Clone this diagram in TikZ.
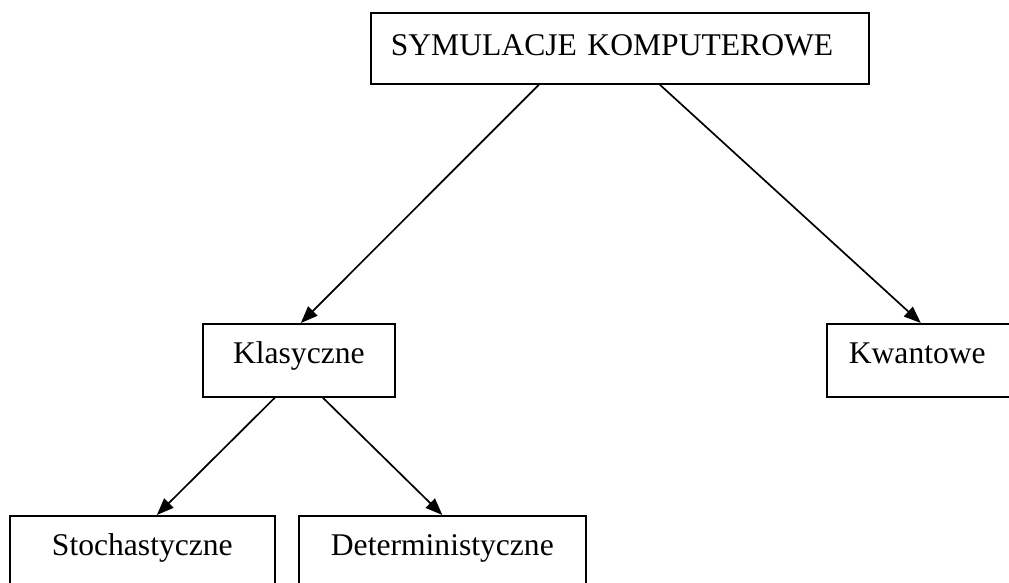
\documentclass[tikz,border=0pt]{standalone}
\usepackage{fontspec}
\setmainfont{Liberation Serif}
\usetikzlibrary{arrows.meta,calc}
\begin{document}
\begin{tikzpicture}[x=1pt,y=-1pt,
  box/.style={draw=black, line width=1.7pt, inner ysep=0pt, font=\fontsize{31.6}{38}\selectfont,
    text height=40pt, text depth=33pt},
  conn/.style={draw=black, line width=1.7pt, -{Triangle[length=17pt,width=13pt]}}]
\clip (0,0) rectangle (1009,583);
\fill[white] (0,0) rectangle (1009,583);
\node[box, anchor=north west, inner xsep=20pt, text width=458pt, align=left,
  text height=43pt, text depth=28pt] (top) at (370,12) {SYMULACJE KOMPUTEROWE};
\node[box, anchor=north west, inner xsep=0pt, text width=192pt, align=center] (klas) at (202,323) {Klasyczne};
\node[box, anchor=north west, inner xsep=22pt, text width=142pt, align=left] (kwan) at (826,323) {Kwantowe};
\node[box, anchor=north west, inner xsep=0pt, text width=265pt, align=center] (stoch) at (9,515) {Stochastyczne};
\node[box, anchor=north west, inner xsep=0pt, text width=287pt, align=center] (det) at (298,515) {Deterministyczne};
\draw[conn] ($(top.south)+(-81,0)$) -- ($(klas.north)+(2,0)$);
\draw[conn] ($(top.south)+(40,0)$) -- ($(kwan.north)+(1,0)$);
\draw[conn] ($(klas.south)+(-24,0)$) -- ($(stoch.north)+(14.5,0)$);
\draw[conn] ($(klas.south)+(24,0)$) -- (det.north);
\end{tikzpicture}
\end{document}
